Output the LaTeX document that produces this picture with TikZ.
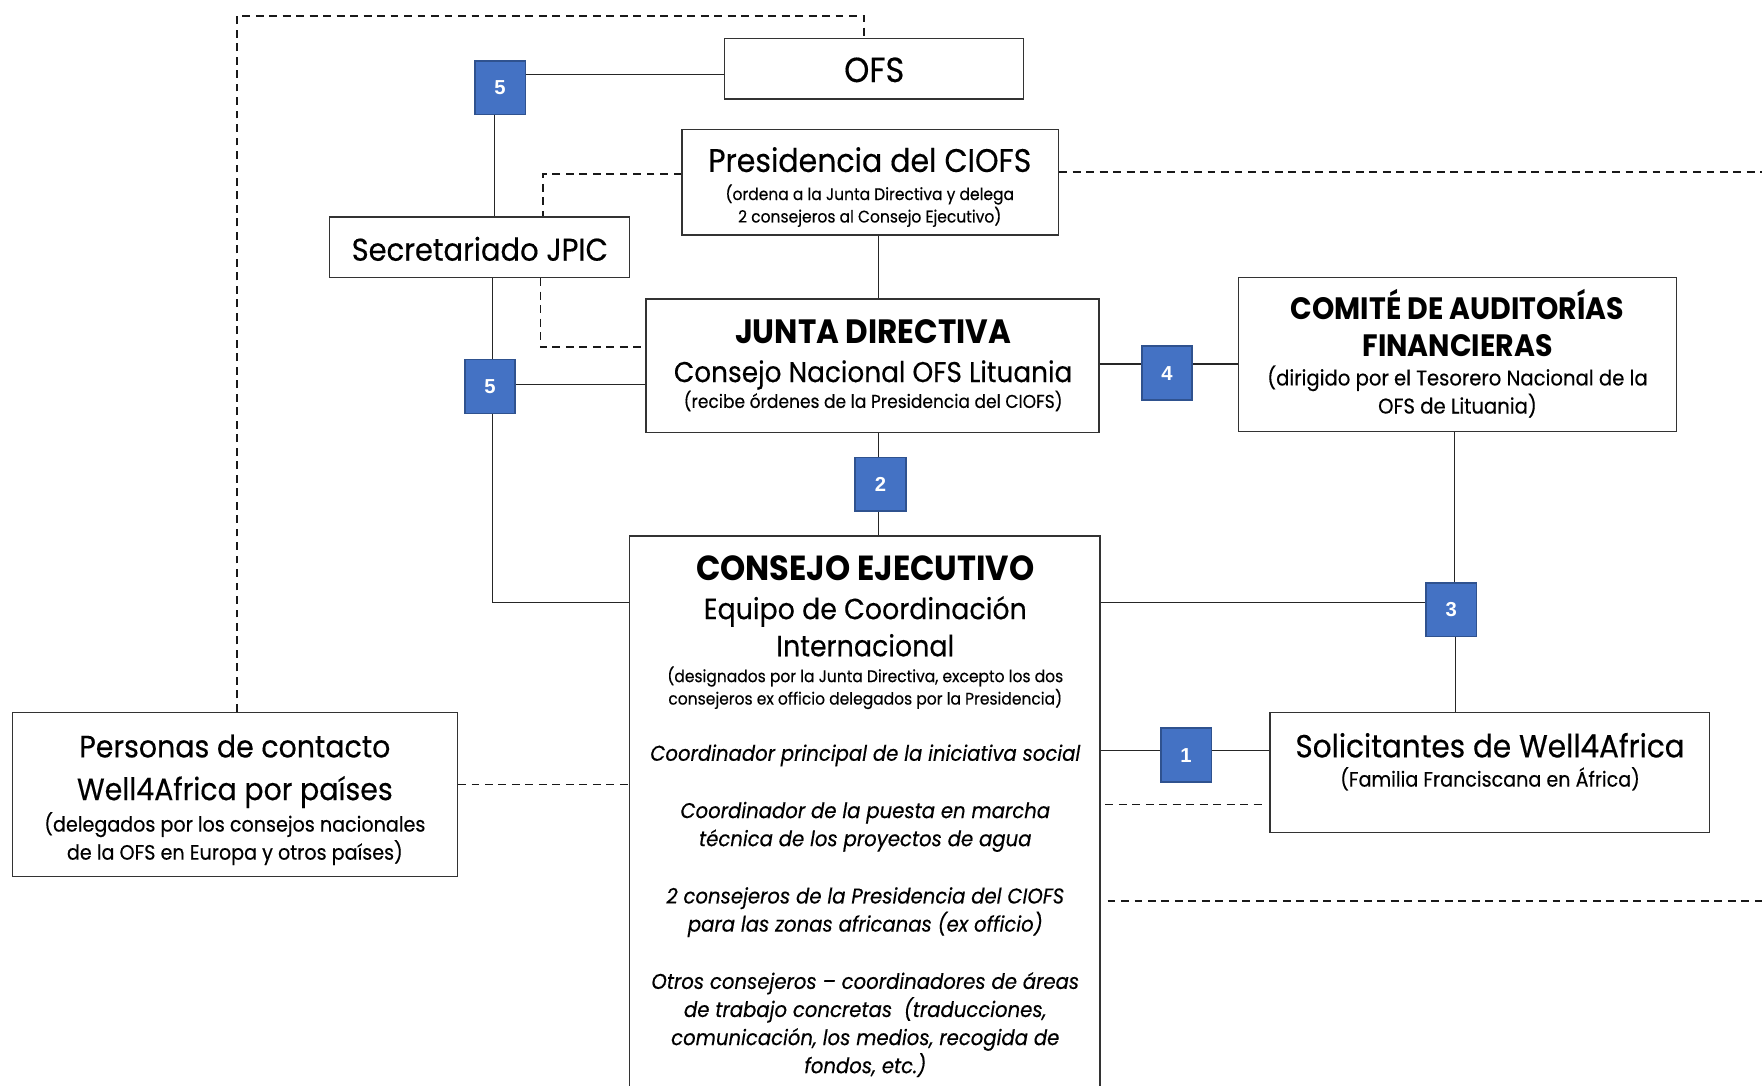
\documentclass[tikz,border=0pt]{standalone}
\usepackage{fontspec}
\setmainfont{Poppins}[FakeStretch=0.92, UprightFeatures={FakeBold=0.35}, ItalicFeatures={FakeBold=0.35}]
\newfontfamily\numfont{Liberation Sans}
\definecolor{boxc}{HTML}{333333}
\definecolor{badgef}{HTML}{4472C4}
\definecolor{badgeb}{HTML}{2F528F}
\tikzset{
  box/.style={draw=boxc, line width=1.2pt, rectangle, inner sep=0pt},
  badge/.style={draw=badgeb, fill=badgef, line width=1.5pt, rectangle, inner sep=0pt,
    minimum width=45pt, minimum height=48pt, text=white, font=\numfont\bfseries\fontsize{18}{18}\selectfont},
  conn/.style={draw=black!85, line width=1.1pt},
  dsh/.style={draw=black!90, line width=1.4pt, dash pattern=on 7pt off 5pt},
  txt/.style={inner sep=0pt, anchor=base, font=\fontsize{#1}{#1}\selectfont},
  btxt/.style={inner sep=0pt, anchor=base, font=\fontsize{#1}{#1}\selectfont\bfseries},
  itxt/.style={inner sep=0pt, anchor=base, font=\fontsize{#1}{#1}\selectfont\itshape}
}
\begin{document}
\begin{tikzpicture}[x=1pt,y=-1pt]
\clip (0,0) rectangle (1568,966);
\fill[white] (0,0) rectangle (1568,966);
% boxes
\node[box, minimum width=266pt, minimum height=54pt] (ofs) at (778,61) {};
\node[box, minimum width=335pt, minimum height=94pt] (pres) at (774.5,162) {};
\node[box, minimum width=267pt, minimum height=54pt] (sec) at (426.5,220) {};
\node[box, minimum width=403pt, minimum height=119pt] (junta) at (776.5,325.5) {};
\node[box, minimum width=390pt, minimum height=137pt] (comite) at (1297,315.5) {};
\node[box, minimum width=419pt, minimum height=523pt] (consejo) at (769.5,738.5) {};
\node[box, minimum width=396pt, minimum height=146pt] (personas) at (209,707) {};
\node[box, minimum width=391pt, minimum height=107pt] (solic) at (1325.5,687.5) {};
% badges
\node[badge] (b5a) at (445,78) {5};
\node[badge] (b5b) at (436,344) {5};
\node[badge] (b4) at (1038.5,332) {4};
\node[badge] (b2) at (783.5,431) {2};
\node[badge] (b3) at (1291.5,542.5) {3};
\node[badge] (b1) at (1055.5,672) {1};
% free ends
\coordinate (e1) at (1568,153);
\coordinate (e2) at (1568,802);
% solid connectors
\draw[conn] (b5a.east |- 0,66) -- (ofs.west |- 0,66);
\draw[conn] (b5a.south -| 440,0) -- (sec.north -| 440,0);
\draw[conn] (sec.south -| 438,0) -- (b5b.north -| 438,0);
\draw[conn] (b5b.south -| 438,0) |- (consejo.west |- 0,536);
\draw[conn] (b5b.east |- 0,342) -- (junta.west |- 0,342);
\draw[conn] (pres.south -| 782,0) -- (junta.north -| 782,0);
\draw[conn] (junta.south -| 782,0) -- (b2.north -| 782,0);
\draw[conn] (b2.south -| 782,0) -- (consejo.north -| 782,0);
\draw[conn] (junta.east |- 0,324) -- (b4.west |- 0,324);
\draw[conn] (b4.east |- 0,324) -- (comite.west |- 0,324);
\draw[conn] (comite.south -| 1294,0) -- (b3.north -| 1294,0);
\draw[conn] (consejo.east |- 0,536) -- (b3.west |- 0,536);
\draw[conn] (b3.south -| 1295,0) -- (solic.north -| 1295,0);
\draw[conn] (consejo.east |- 0,668) -- (b1.west |- 0,668);
\draw[conn] (b1.east |- 0,668) -- (solic.west |- 0,668);
% dashed connectors
\draw[dsh] (personas.north -| 211,0) -- (211,14) -| (ofs.north -| 769,0);
\draw[dsh] (pres.west |- 0,155) -| (sec.north -| 483,0);
\draw[dsh] (pres.east |- 0,153) -- (e1);
\draw[dsh] (sec.south -| 481,0) |- (junta.west |- 0,309);
\draw[dsh] (personas.east |- 0,698) -- (consejo.west |- 0,698);
\draw[dsh] ([xshift=4pt]consejo.east |- 0,716) -- ([xshift=-3pt]solic.west |- 0,716);
\draw[dsh] ([xshift=6pt]consejo.east |- 0,802) -- (e2);
% texts
\node[txt=31] (tofs) at (778,73) {OFS};
\node[txt=29] (tpres1) at (774,153) {Presidencia del CIOFS};
\node[txt=15] (tpres2) at (774,178) {(ordena a la Junta Directiva y delega};
\node[txt=15] (tpres3) at (774,198) {2 consejeros al Consejo Ejecutivo)};
\node[txt=28] (tsec) at (427,232) {Secretariado JPIC};
\node[btxt=30] (tj1) at (777,306) {JUNTA DIRECTIVA};
\node[txt=25.5] (tj2) at (777,340) {Consejo Nacional OFS Lituania};
\node[txt=16.5] (tj3) at (777,363) {(recibe órdenes de la Presidencia del CIOFS)};
\node[btxt=27.5] (tc1) at (1297,284) {COMITÉ DE AUDITORÍAS};
\node[btxt=27.5] (tc2) at (1297,317) {FINANCIERAS};
\node[txt=19] (tc3) at (1297,343) {(dirigido por el Tesorero Nacional de la};
\node[txt=19] (tc4) at (1297,368) {OFS de Lituania)};
\node[btxt=31] (te1) at (770,517) {CONSEJO EJECUTIVO};
\node[txt=26] (te2) at (770,551) {Equipo de Coordinación};
\node[txt=26] (te3) at (770,584) {Internacional};
\node[txt=15] (te4) at (770,607) {(designados por la Junta Directiva, excepto los dos};
\node[txt=15] (te5) at (770,627) {consejeros ex officio delegados por la Presidencia)};
\node[itxt=19] (te6) at (770,677) {Coordinador principal de la iniciativa social};
\node[itxt=19] (te7) at (770,728) {Coordinador de la puesta en marcha};
\node[itxt=19] (te8) at (770,753) {técnica de los proyectos de agua};
\node[itxt=19] (te9) at (770,804) {2 consejeros de la Presidencia del CIOFS};
\node[itxt=19] (te10) at (770,829) {para las zonas africanas (ex officio)};
\node[itxt=19] (te11) at (770,880) {Otros consejeros – coordinadores de áreas};
\node[itxt=19] (te12) at (770,905) {de trabajo concretas~ (traducciones,};
\node[itxt=19] (te13) at (770,930) {comunicación, los medios, recogida de};
\node[itxt=19] (te14) at (770,955) {fondos, etc.)};
\node[txt=27.5] (tp1) at (209,674) {Personas de contacto};
\node[txt=27.5] (tp2) at (209,712) {Well4Africa por países};
\node[txt=18.5] (tp3) at (209,740) {(delegados por los consejos nacionales};
\node[txt=18.5] (tp4) at (209,765) {de la OFS en Europa y otros países)};
\node[txt=28.5] (ts1) at (1326,674) {Solicitantes de Well4Africa};
\node[txt=18.5] (ts2) at (1326,700) {(Familia Franciscana en África)};
\end{tikzpicture}
\end{document}
